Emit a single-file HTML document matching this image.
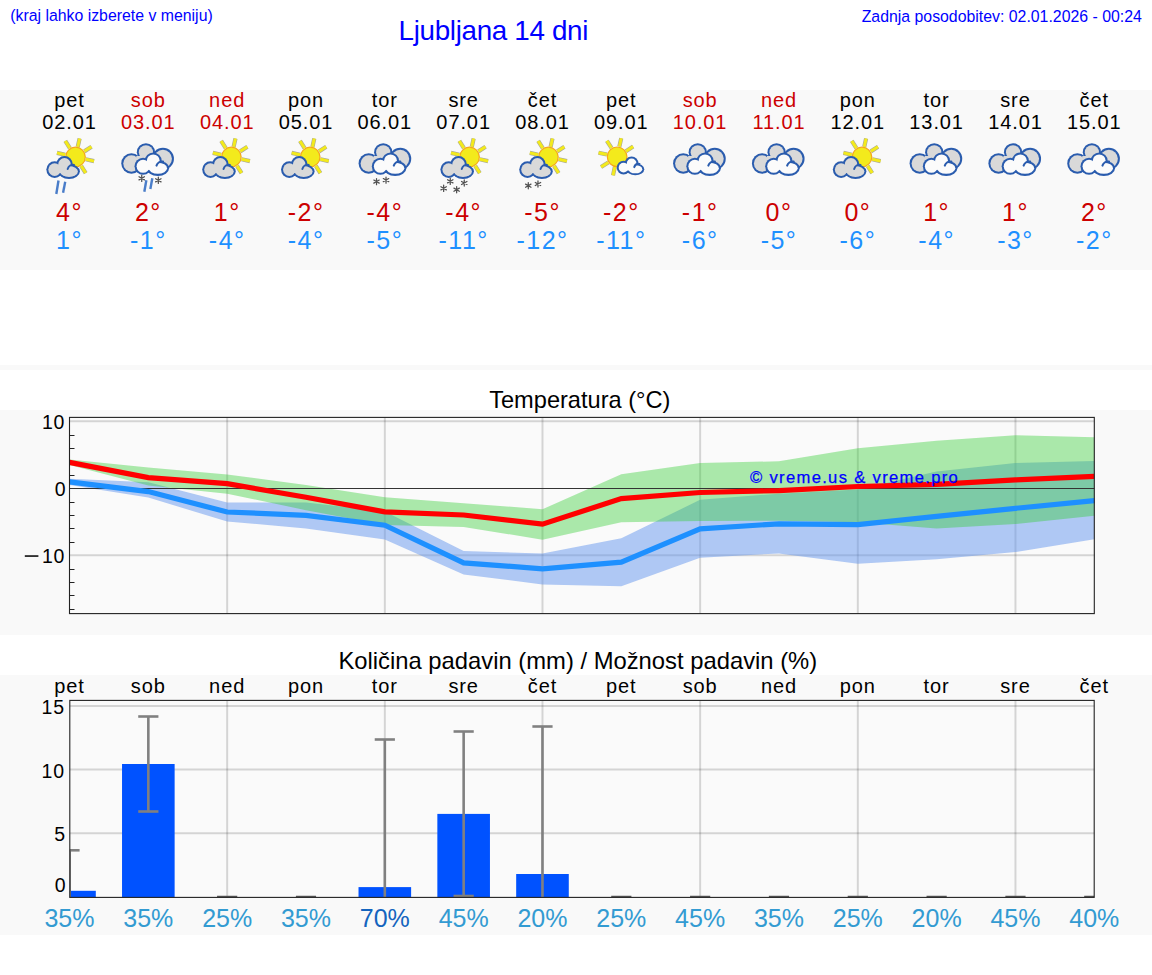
<!DOCTYPE html>
<html><head><meta charset="utf-8"><title>Ljubljana 14 dni</title>
<style>
html,body{margin:0;padding:0;background:#fff;}
body{width:1152px;height:975px;overflow:hidden;position:relative;font-family:"Liberation Sans",sans-serif;}
svg{position:absolute;left:0;top:0;}
text{font-family:"Liberation Sans",sans-serif;}
</style></head><body>
<svg width="1152" height="975" viewBox="0 0 1152 975">
<defs>
<g id="cloudG"><g fill="#2a5cae"><circle cx="-16.66" cy="169.6" r="8.3"/><circle cx="-6.8" cy="164.4" r="8.3"/><ellipse cx="-2.3" cy="171.5" rx="10.9" ry="7.4"/></g><g fill="#d9d9d9"><circle cx="-16.66" cy="169.6" r="6.30"/><circle cx="-6.8" cy="164.4" r="6.30"/><ellipse cx="-2.3" cy="171.5" rx="8.90" ry="5.40"/><rect x="-14" y="165" width="8" height="8"/></g><path d="M-3.63,168.94 A5.65,5.65 0 0 1 2.78,164.94" fill="none" stroke="#2a5cae" stroke-width="2.00" stroke-linecap="round"/></g>
<g id="cloudW"><g fill="#2a5cae"><circle cx="-16.66" cy="169.6" r="8.3"/><circle cx="-6.8" cy="164.4" r="8.3"/><ellipse cx="-2.3" cy="171.5" rx="10.9" ry="7.4"/></g><g fill="#fbfbfb"><circle cx="-16.66" cy="169.6" r="6.30"/><circle cx="-6.8" cy="164.4" r="6.30"/><ellipse cx="-2.3" cy="171.5" rx="8.90" ry="5.40"/><rect x="-14" y="165" width="8" height="8"/></g><path d="M-3.63,168.94 A5.65,5.65 0 0 1 2.78,164.94" fill="none" stroke="#2a5cae" stroke-width="2.00" stroke-linecap="round"/></g>
<g id="cloudWs"><g fill="#2a5cae"><circle cx="-16.66" cy="169.6" r="8.3"/><circle cx="-6.8" cy="164.4" r="8.3"/><ellipse cx="-2.3" cy="171.5" rx="10.9" ry="7.4"/></g><g fill="#fbfbfb"><circle cx="-16.66" cy="169.6" r="5.90"/><circle cx="-6.8" cy="164.4" r="5.90"/><ellipse cx="-2.3" cy="171.5" rx="8.50" ry="5.00"/><rect x="-14" y="165" width="8" height="8"/></g><path d="M-3.63,168.94 A5.65,5.65 0 0 1 2.78,164.94" fill="none" stroke="#2a5cae" stroke-width="2.40" stroke-linecap="round"/></g>
<g id="back"><g fill="#2a5cae"><circle cx="-16.9" cy="163.5" r="10.15"/><circle cx="-2.4" cy="152.3" r="9.1"/><circle cx="14.6" cy="158.8" r="11"/></g><g fill="#d9d9d9"><circle cx="-16.9" cy="163.5" r="8.15"/><circle cx="-2.4" cy="152.3" r="7.1"/><circle cx="14.6" cy="158.8" r="9"/><rect x="-12" y="156" width="24" height="12"/></g></g>
<g id="sun"><path d="M10.25,2.27L18.55,4.11M5.64,8.86L10.21,16.02M-2.27,10.25L-4.11,18.55M-8.86,5.64L-16.02,10.21M-10.25,-2.27L-18.55,-4.11M-5.64,-8.86L-10.21,-16.02M2.27,-10.25L4.11,-18.55M8.86,-5.64L16.02,-10.21" stroke="#a9a99c" stroke-width="4.2" stroke-linecap="butt"/><path d="M10.25,2.27L18.55,4.11M5.64,8.86L10.21,16.02M-2.27,10.25L-4.11,18.55M-8.86,5.64L-16.02,10.21M-10.25,-2.27L-18.55,-4.11M-5.64,-8.86L-10.21,-16.02M2.27,-10.25L4.11,-18.55M8.86,-5.64L16.02,-10.21" stroke="#f3ea1c" stroke-width="3.0"/><circle r="9.8" fill="#f3ea1c" stroke="#f4a81c" stroke-width="1.2"/></g>
<g id="star" stroke="#505050" stroke-width="1.25" stroke-linecap="round"><path d="M0,-3.1V3.1M-2.7,-1.55L2.7,1.55M-2.7,1.55L2.7,-1.55"/></g>
</defs>
<text x="10.2" y="20.6" font-size="15.85" fill="#0000ff">(kraj lahko izberete v meniju)</text>
<text x="398.6" y="39.9" font-size="27.8" letter-spacing="-0.33" fill="#0000ff">Ljubljana 14 dni</text>
<text x="1141.8" y="21.5" font-size="15.85" fill="#0000ff" text-anchor="end">Zadnja posodobitev: 02.01.2026 - 00:24</text>
<rect x="0" y="90" width="1152" height="180" fill="#f9f9f9"/>
<rect x="0" y="365" width="1152" height="5" fill="#f9f9f9"/>
<rect x="0" y="410" width="1152" height="225" fill="#f9f9f9"/>
<rect x="0" y="675" width="1152" height="260" fill="#f9f9f9"/>
<text x="69.5" y="107" font-size="20" letter-spacing="0.9" text-anchor="middle" fill="#000">pet</text><text x="69.5" y="128.6" font-size="20" letter-spacing="0.9" text-anchor="middle" fill="#000">02.01</text><text x="69.55" y="220.8" font-size="25" letter-spacing="1.5" text-anchor="middle" fill="#cc0000">4°</text><text x="69.55" y="248.5" font-size="25" letter-spacing="1.5" text-anchor="middle" fill="#1e90ff">1°</text><text x="148.33" y="107" font-size="20" letter-spacing="0.9" text-anchor="middle" fill="#cc0000">sob</text><text x="148.33" y="128.6" font-size="20" letter-spacing="0.9" text-anchor="middle" fill="#cc0000">03.01</text><text x="148.38" y="220.8" font-size="25" letter-spacing="1.5" text-anchor="middle" fill="#cc0000">2°</text><text x="148.38" y="248.5" font-size="25" letter-spacing="1.5" text-anchor="middle" fill="#1e90ff">-1°</text><text x="227.16" y="107" font-size="20" letter-spacing="0.9" text-anchor="middle" fill="#cc0000">ned</text><text x="227.16" y="128.6" font-size="20" letter-spacing="0.9" text-anchor="middle" fill="#cc0000">04.01</text><text x="227.21" y="220.8" font-size="25" letter-spacing="1.5" text-anchor="middle" fill="#cc0000">1°</text><text x="227.21" y="248.5" font-size="25" letter-spacing="1.5" text-anchor="middle" fill="#1e90ff">-4°</text><text x="305.99" y="107" font-size="20" letter-spacing="0.9" text-anchor="middle" fill="#000">pon</text><text x="305.99" y="128.6" font-size="20" letter-spacing="0.9" text-anchor="middle" fill="#000">05.01</text><text x="306.04" y="220.8" font-size="25" letter-spacing="1.5" text-anchor="middle" fill="#cc0000">-2°</text><text x="306.04" y="248.5" font-size="25" letter-spacing="1.5" text-anchor="middle" fill="#1e90ff">-4°</text><text x="384.82" y="107" font-size="20" letter-spacing="0.9" text-anchor="middle" fill="#000">tor</text><text x="384.82" y="128.6" font-size="20" letter-spacing="0.9" text-anchor="middle" fill="#000">06.01</text><text x="384.87" y="220.8" font-size="25" letter-spacing="1.5" text-anchor="middle" fill="#cc0000">-4°</text><text x="384.87" y="248.5" font-size="25" letter-spacing="1.5" text-anchor="middle" fill="#1e90ff">-5°</text><text x="463.65" y="107" font-size="20" letter-spacing="0.9" text-anchor="middle" fill="#000">sre</text><text x="463.65" y="128.6" font-size="20" letter-spacing="0.9" text-anchor="middle" fill="#000">07.01</text><text x="463.7" y="220.8" font-size="25" letter-spacing="1.5" text-anchor="middle" fill="#cc0000">-4°</text><text x="463.7" y="248.5" font-size="25" letter-spacing="1.5" text-anchor="middle" fill="#1e90ff">-11°</text><text x="542.48" y="107" font-size="20" letter-spacing="0.9" text-anchor="middle" fill="#000">čet</text><text x="542.48" y="128.6" font-size="20" letter-spacing="0.9" text-anchor="middle" fill="#000">08.01</text><text x="542.53" y="220.8" font-size="25" letter-spacing="1.5" text-anchor="middle" fill="#cc0000">-5°</text><text x="542.53" y="248.5" font-size="25" letter-spacing="1.5" text-anchor="middle" fill="#1e90ff">-12°</text><text x="621.31" y="107" font-size="20" letter-spacing="0.9" text-anchor="middle" fill="#000">pet</text><text x="621.31" y="128.6" font-size="20" letter-spacing="0.9" text-anchor="middle" fill="#000">09.01</text><text x="621.36" y="220.8" font-size="25" letter-spacing="1.5" text-anchor="middle" fill="#cc0000">-2°</text><text x="621.36" y="248.5" font-size="25" letter-spacing="1.5" text-anchor="middle" fill="#1e90ff">-11°</text><text x="700.14" y="107" font-size="20" letter-spacing="0.9" text-anchor="middle" fill="#cc0000">sob</text><text x="700.14" y="128.6" font-size="20" letter-spacing="0.9" text-anchor="middle" fill="#cc0000">10.01</text><text x="700.19" y="220.8" font-size="25" letter-spacing="1.5" text-anchor="middle" fill="#cc0000">-1°</text><text x="700.19" y="248.5" font-size="25" letter-spacing="1.5" text-anchor="middle" fill="#1e90ff">-6°</text><text x="778.97" y="107" font-size="20" letter-spacing="0.9" text-anchor="middle" fill="#cc0000">ned</text><text x="778.97" y="128.6" font-size="20" letter-spacing="0.9" text-anchor="middle" fill="#cc0000">11.01</text><text x="779.02" y="220.8" font-size="25" letter-spacing="1.5" text-anchor="middle" fill="#cc0000">0°</text><text x="779.02" y="248.5" font-size="25" letter-spacing="1.5" text-anchor="middle" fill="#1e90ff">-5°</text><text x="857.8" y="107" font-size="20" letter-spacing="0.9" text-anchor="middle" fill="#000">pon</text><text x="857.8" y="128.6" font-size="20" letter-spacing="0.9" text-anchor="middle" fill="#000">12.01</text><text x="857.85" y="220.8" font-size="25" letter-spacing="1.5" text-anchor="middle" fill="#cc0000">0°</text><text x="857.85" y="248.5" font-size="25" letter-spacing="1.5" text-anchor="middle" fill="#1e90ff">-6°</text><text x="936.63" y="107" font-size="20" letter-spacing="0.9" text-anchor="middle" fill="#000">tor</text><text x="936.63" y="128.6" font-size="20" letter-spacing="0.9" text-anchor="middle" fill="#000">13.01</text><text x="936.68" y="220.8" font-size="25" letter-spacing="1.5" text-anchor="middle" fill="#cc0000">1°</text><text x="936.68" y="248.5" font-size="25" letter-spacing="1.5" text-anchor="middle" fill="#1e90ff">-4°</text><text x="1015.46" y="107" font-size="20" letter-spacing="0.9" text-anchor="middle" fill="#000">sre</text><text x="1015.46" y="128.6" font-size="20" letter-spacing="0.9" text-anchor="middle" fill="#000">14.01</text><text x="1015.51" y="220.8" font-size="25" letter-spacing="1.5" text-anchor="middle" fill="#cc0000">1°</text><text x="1015.51" y="248.5" font-size="25" letter-spacing="1.5" text-anchor="middle" fill="#1e90ff">-3°</text><text x="1094.29" y="107" font-size="20" letter-spacing="0.9" text-anchor="middle" fill="#000">čet</text><text x="1094.29" y="128.6" font-size="20" letter-spacing="0.9" text-anchor="middle" fill="#000">15.01</text><text x="1094.34" y="220.8" font-size="25" letter-spacing="1.5" text-anchor="middle" fill="#cc0000">2°</text><text x="1094.34" y="248.5" font-size="25" letter-spacing="1.5" text-anchor="middle" fill="#1e90ff">-2°</text>
<g transform="translate(71.3,0)"><use href="#sun" xlink:href="#sun" transform="translate(4.2,157)"/><use href="#cloudG" xlink:href="#cloudG"/></g><path d="M58.5,180.5L56.3,194" stroke="#4a7dc9" stroke-width="2.4"/><path d="M65.2,181.8L63.1,192.8" stroke="#4a7dc9" stroke-width="2.4"/>
<g transform="translate(148.33,0)"><use href="#back" xlink:href="#back"/><use href="#cloudW" xlink:href="#cloudW" transform="translate(11.909,-8.383) scale(1.03)"/></g><use href="#star" xlink:href="#star" transform="translate(141.73,178.3)"/><use href="#star" xlink:href="#star" transform="translate(158.33,180.3)"/><path d="M146.33,180.3L144.33,191.7" stroke="#4a7dc9" stroke-width="2.4"/><path d="M152.33,178.3L150.33,189" stroke="#4a7dc9" stroke-width="2.4"/>
<g transform="translate(227.16,0)"><use href="#sun" xlink:href="#sun" transform="translate(4.2,157)"/><use href="#cloudG" xlink:href="#cloudG"/></g>
<g transform="translate(305.99,0)"><use href="#sun" xlink:href="#sun" transform="translate(4.2,157)"/><use href="#cloudG" xlink:href="#cloudG"/></g>
<g transform="translate(385.62,0)"><use href="#back" xlink:href="#back"/><use href="#cloudW" xlink:href="#cloudW" transform="translate(11.909,-8.383) scale(1.03)"/></g><use href="#star" xlink:href="#star" transform="translate(376.52,181.6)"/><use href="#star" xlink:href="#star" transform="translate(386.02,180.1)"/>
<g transform="translate(465.35,0)"><use href="#sun" xlink:href="#sun" transform="translate(4.2,157)"/><use href="#cloudG" xlink:href="#cloudG"/></g><use href="#star" xlink:href="#star" transform="translate(450.25,181.3)"/><use href="#star" xlink:href="#star" transform="translate(464.25,183)"/><use href="#star" xlink:href="#star" transform="translate(443.65,188.3)"/><use href="#star" xlink:href="#star" transform="translate(456.65,189.7)"/>
<g transform="translate(544.18,0)"><use href="#sun" xlink:href="#sun" transform="translate(4.2,157)"/><use href="#cloudG" xlink:href="#cloudG"/></g><use href="#star" xlink:href="#star" transform="translate(528.28,185.7)"/><use href="#star" xlink:href="#star" transform="translate(537.98,184)"/>
<g transform="translate(621.31,0)"><use href="#sun" xlink:href="#sun" transform="translate(-4.2,156.8)"/><use href="#cloudWs" xlink:href="#cloudWs" transform="translate(15.9,28.6) scale(0.82)"/></g>
<g transform="translate(700.14,0)"><use href="#back" xlink:href="#back"/><use href="#cloudW" xlink:href="#cloudW" transform="translate(11.909,-8.383) scale(1.03)"/></g>
<g transform="translate(778.97,0)"><use href="#back" xlink:href="#back"/><use href="#cloudW" xlink:href="#cloudW" transform="translate(11.909,-8.383) scale(1.03)"/></g>
<g transform="translate(857.8,0)"><use href="#sun" xlink:href="#sun" transform="translate(4.2,157)"/><use href="#cloudG" xlink:href="#cloudG"/></g>
<g transform="translate(936.63,0)"><use href="#back" xlink:href="#back"/><use href="#cloudW" xlink:href="#cloudW" transform="translate(11.909,-8.383) scale(1.03)"/></g>
<g transform="translate(1015.46,0)"><use href="#back" xlink:href="#back"/><use href="#cloudW" xlink:href="#cloudW" transform="translate(11.909,-8.383) scale(1.03)"/></g>
<g transform="translate(1094.29,0)"><use href="#back" xlink:href="#back"/><use href="#cloudW" xlink:href="#cloudW" transform="translate(11.909,-8.383) scale(1.03)"/></g>
<text x="579.8" y="407.7" font-size="23.6" text-anchor="middle" fill="#000">Temperatura (°C)</text>
<rect x="69.5" y="417.4" width="1024.8" height="196.2" fill="#fafafa"/>
<line x1="69.5" x2="1094.3" y1="421.2" y2="421.2" stroke="#000" stroke-opacity="0.15" stroke-width="2"/><line x1="69.5" x2="1094.3" y1="555.2" y2="555.2" stroke="#000" stroke-opacity="0.15" stroke-width="2"/><line x1="227.16" x2="227.16" y1="417.4" y2="613.6" stroke="#000" stroke-opacity="0.15" stroke-width="2"/><line x1="384.82" x2="384.82" y1="417.4" y2="613.6" stroke="#000" stroke-opacity="0.15" stroke-width="2"/><line x1="542.48" x2="542.48" y1="417.4" y2="613.6" stroke="#000" stroke-opacity="0.15" stroke-width="2"/><line x1="700.14" x2="700.14" y1="417.4" y2="613.6" stroke="#000" stroke-opacity="0.15" stroke-width="2"/><line x1="857.8" x2="857.8" y1="417.4" y2="613.6" stroke="#000" stroke-opacity="0.15" stroke-width="2"/><line x1="1015.46" x2="1015.46" y1="417.4" y2="613.6" stroke="#000" stroke-opacity="0.15" stroke-width="2"/>
<polygon points="69.5,478.8 148.33,482.3 227.16,502.4 305.99,502.6 384.82,511.5 463.65,550.9 542.48,553.6 621.31,538.3 700.14,499.8 778.97,493.7 857.8,489.5 936.63,471.6 1015.46,463.1 1094.29,460.9 1094.29,539.2 1015.46,552.1 936.63,559.2 857.8,563.8 778.97,553.4 700.14,557.7 621.31,586.3 542.48,584.5 463.65,574.4 384.82,539.5 305.99,528.5 227.16,521.4 148.33,497.6 69.5,484.9" fill="#6495ed" fill-opacity="0.5"/>
<polygon points="69.5,459.4 148.33,467.6 227.16,474.4 305.99,485 384.82,497.2 463.65,503.3 542.48,509.2 621.31,474.3 700.14,462.9 778.97,461.3 857.8,448.2 936.63,440.8 1015.46,435.3 1094.29,437.2 1094.29,515.8 1015.46,524.1 936.63,528.4 857.8,522.3 778.97,520.8 700.14,521.1 621.31,522.3 542.48,539.7 463.65,526.9 384.82,525 305.99,510.2 227.16,493.7 148.33,485.6 69.5,465.1" fill="#32cd32" fill-opacity="0.4"/>
<line x1="69.5" x2="1094.3" y1="488.5" y2="488.5" stroke="#333" stroke-width="1"/>
<line x1="69.5" x2="74.5" y1="609.5" y2="609.5" stroke="#222" stroke-width="1"/><line x1="69.5" x2="74.5" y1="595.5" y2="595.5" stroke="#222" stroke-width="1"/><line x1="69.5" x2="74.5" y1="582.5" y2="582.5" stroke="#222" stroke-width="1"/><line x1="69.5" x2="74.5" y1="569.5" y2="569.5" stroke="#222" stroke-width="1"/><line x1="69.5" x2="74.5" y1="542.5" y2="542.5" stroke="#222" stroke-width="1"/><line x1="69.5" x2="74.5" y1="528.5" y2="528.5" stroke="#222" stroke-width="1"/><line x1="69.5" x2="74.5" y1="515.5" y2="515.5" stroke="#222" stroke-width="1"/><line x1="69.5" x2="74.5" y1="502.5" y2="502.5" stroke="#222" stroke-width="1"/><line x1="69.5" x2="74.5" y1="475.5" y2="475.5" stroke="#222" stroke-width="1"/><line x1="69.5" x2="74.5" y1="461.5" y2="461.5" stroke="#222" stroke-width="1"/><line x1="69.5" x2="74.5" y1="448.5" y2="448.5" stroke="#222" stroke-width="1"/><line x1="69.5" x2="74.5" y1="435.5" y2="435.5" stroke="#222" stroke-width="1"/>
<polyline points="69.5,462.4 148.33,477.6 227.16,483.7 305.99,497.3 384.82,511.9 463.65,515 542.48,524.2 621.31,498.6 700.14,492.5 778.97,490.6 857.8,486.5 936.63,484.3 1015.46,479.9 1094.29,476.3" fill="none" stroke="#ff0000" stroke-width="5.2" stroke-linejoin="miter"/>
<polyline points="69.5,481.8 148.33,491.6 227.16,512 305.99,515.3 384.82,525.2 463.65,562.9 542.48,568.8 621.31,562.1 700.14,528.8 778.97,523.8 857.8,524.6 936.63,516.4 1015.46,508.3 1094.29,500.7" fill="none" stroke="#1e90ff" stroke-width="5.2" stroke-linejoin="miter"/>
<text x="750" y="483" font-size="16.6" letter-spacing="1.32" fill="#0000ff" stroke="#0000ff" stroke-width="0.25">© vreme.us &amp; vreme.pro</text>
<rect x="69.5" y="417.4" width="1024.8" height="196.2" fill="none" stroke="#222" stroke-width="1.1"/>
<text x="64.9" y="429.1" font-size="19.5" letter-spacing="0.6" text-anchor="end">10</text><text x="65.7" y="495.9" font-size="19.5" text-anchor="end">0</text><text x="64.9" y="562.9" font-size="19.5" letter-spacing="0.6" text-anchor="end">10</text><rect x="24.8" y="555.3" width="13.6" height="1.5" fill="#000"/>
<text x="577.8" y="669" font-size="23.8" text-anchor="middle" fill="#000">Količina padavin (mm) / Možnost padavin (%)</text>
<text x="69.5" y="692.5" font-size="20" letter-spacing="0.9" text-anchor="middle" fill="#000">pet</text><text x="148.33" y="692.5" font-size="20" letter-spacing="0.9" text-anchor="middle" fill="#000">sob</text><text x="227.16" y="692.5" font-size="20" letter-spacing="0.9" text-anchor="middle" fill="#000">ned</text><text x="305.99" y="692.5" font-size="20" letter-spacing="0.9" text-anchor="middle" fill="#000">pon</text><text x="384.82" y="692.5" font-size="20" letter-spacing="0.9" text-anchor="middle" fill="#000">tor</text><text x="463.65" y="692.5" font-size="20" letter-spacing="0.9" text-anchor="middle" fill="#000">sre</text><text x="542.48" y="692.5" font-size="20" letter-spacing="0.9" text-anchor="middle" fill="#000">čet</text><text x="621.31" y="692.5" font-size="20" letter-spacing="0.9" text-anchor="middle" fill="#000">pet</text><text x="700.14" y="692.5" font-size="20" letter-spacing="0.9" text-anchor="middle" fill="#000">sob</text><text x="778.97" y="692.5" font-size="20" letter-spacing="0.9" text-anchor="middle" fill="#000">ned</text><text x="857.8" y="692.5" font-size="20" letter-spacing="0.9" text-anchor="middle" fill="#000">pon</text><text x="936.63" y="692.5" font-size="20" letter-spacing="0.9" text-anchor="middle" fill="#000">tor</text><text x="1015.46" y="692.5" font-size="20" letter-spacing="0.9" text-anchor="middle" fill="#000">sre</text><text x="1094.29" y="692.5" font-size="20" letter-spacing="0.9" text-anchor="middle" fill="#000">čet</text>
<rect x="69.8" y="700.4" width="1024.4" height="197" fill="#fafafa"/>
<line x1="69.8" x2="1094.2" y1="705.9" y2="705.9" stroke="#000" stroke-opacity="0.15" stroke-width="2"/><line x1="69.8" x2="1094.2" y1="769.6" y2="769.6" stroke="#000" stroke-opacity="0.15" stroke-width="2"/><line x1="69.8" x2="1094.2" y1="833.3" y2="833.3" stroke="#000" stroke-opacity="0.15" stroke-width="2"/><line x1="227.16" x2="227.16" y1="700.4" y2="897.4" stroke="#000" stroke-opacity="0.15" stroke-width="2"/><line x1="384.82" x2="384.82" y1="700.4" y2="897.4" stroke="#000" stroke-opacity="0.15" stroke-width="2"/><line x1="542.48" x2="542.48" y1="700.4" y2="897.4" stroke="#000" stroke-opacity="0.15" stroke-width="2"/><line x1="700.14" x2="700.14" y1="700.4" y2="897.4" stroke="#000" stroke-opacity="0.15" stroke-width="2"/><line x1="857.8" x2="857.8" y1="700.4" y2="897.4" stroke="#000" stroke-opacity="0.15" stroke-width="2"/><line x1="1015.46" x2="1015.46" y1="700.4" y2="897.4" stroke="#000" stroke-opacity="0.15" stroke-width="2"/>
<rect x="69.8" y="890.8" width="26" height="6.6" fill="#0052ff"/><rect x="122.03" y="764" width="52.6" height="133.4" fill="#0052ff"/><rect x="358.52" y="887.1" width="52.6" height="10.3" fill="#0052ff"/><rect x="437.35" y="813.9" width="52.6" height="83.5" fill="#0052ff"/><rect x="516.18" y="874" width="52.6" height="23.4" fill="#0052ff"/>
<rect x="69.8" y="850.3" width="1.2" height="47.1" fill="#808080"/><line x1="69.8" x2="79.6" y1="850.3" y2="850.3" stroke="#808080" stroke-width="2.6"/><line x1="148.33" x2="148.33" y1="716.5" y2="811.5" stroke="#808080" stroke-width="2.6"/><line x1="138.23" x2="158.43" y1="716.5" y2="716.5" stroke="#808080" stroke-width="2.6"/><line x1="138.23" x2="158.43" y1="811.5" y2="811.5" stroke="#808080" stroke-width="2.6"/><line x1="384.82" x2="384.82" y1="739.5" y2="897.4" stroke="#808080" stroke-width="2.6"/><line x1="374.72" x2="394.92" y1="739.5" y2="739.5" stroke="#808080" stroke-width="2.6"/><line x1="463.65" x2="463.65" y1="731.5" y2="896" stroke="#808080" stroke-width="2.6"/><line x1="453.55" x2="473.75" y1="731.5" y2="731.5" stroke="#808080" stroke-width="2.6"/><line x1="453.55" x2="473.75" y1="896" y2="896" stroke="#808080" stroke-width="2.6"/><line x1="542.48" x2="542.48" y1="726.5" y2="897.4" stroke="#808080" stroke-width="2.6"/><line x1="532.38" x2="552.58" y1="726.5" y2="726.5" stroke="#808080" stroke-width="2.6"/><line x1="217.06" x2="237.26" y1="896.4" y2="896.4" stroke="#555" stroke-width="1.3"/><line x1="295.89" x2="316.09" y1="896.4" y2="896.4" stroke="#555" stroke-width="1.3"/><line x1="611.21" x2="631.41" y1="896.4" y2="896.4" stroke="#555" stroke-width="1.3"/><line x1="690.04" x2="710.24" y1="896.4" y2="896.4" stroke="#555" stroke-width="1.3"/><line x1="768.87" x2="789.07" y1="896.4" y2="896.4" stroke="#555" stroke-width="1.3"/><line x1="847.7" x2="867.9" y1="896.4" y2="896.4" stroke="#555" stroke-width="1.3"/><line x1="926.53" x2="946.73" y1="896.4" y2="896.4" stroke="#555" stroke-width="1.3"/><line x1="1005.36" x2="1025.56" y1="896.4" y2="896.4" stroke="#555" stroke-width="1.3"/><line x1="1084.19" x2="1094.2" y1="896.4" y2="896.4" stroke="#555" stroke-width="1.3"/>
<rect x="69.8" y="700.4" width="1024.4" height="197" fill="none" stroke="#222" stroke-width="1.1"/>
<text x="64.9" y="714.2" font-size="19.5" letter-spacing="0.8" text-anchor="end">15</text><text x="64.9" y="777.6" font-size="19.5" letter-spacing="0.8" text-anchor="end">10</text><text x="65.0" y="840.8" font-size="19.5" text-anchor="end">5</text><text x="65.5" y="892.0" font-size="19.5" text-anchor="end">0</text>
<text x="69.5" y="927" font-size="25" text-anchor="middle" fill="#339bd2">35%</text><text x="148.33" y="927" font-size="25" text-anchor="middle" fill="#339bd2">35%</text><text x="227.16" y="927" font-size="25" text-anchor="middle" fill="#339bd2">25%</text><text x="305.99" y="927" font-size="25" text-anchor="middle" fill="#339bd2">35%</text><text x="384.82" y="927" font-size="25" text-anchor="middle" fill="#1464be">70%</text><text x="463.65" y="927" font-size="25" text-anchor="middle" fill="#339bd2">45%</text><text x="542.48" y="927" font-size="25" text-anchor="middle" fill="#339bd2">20%</text><text x="621.31" y="927" font-size="25" text-anchor="middle" fill="#339bd2">25%</text><text x="700.14" y="927" font-size="25" text-anchor="middle" fill="#339bd2">45%</text><text x="778.97" y="927" font-size="25" text-anchor="middle" fill="#339bd2">35%</text><text x="857.8" y="927" font-size="25" text-anchor="middle" fill="#339bd2">25%</text><text x="936.63" y="927" font-size="25" text-anchor="middle" fill="#339bd2">20%</text><text x="1015.46" y="927" font-size="25" text-anchor="middle" fill="#339bd2">45%</text><text x="1094.29" y="927" font-size="25" text-anchor="middle" fill="#339bd2">40%</text>
</svg>
</body></html>
